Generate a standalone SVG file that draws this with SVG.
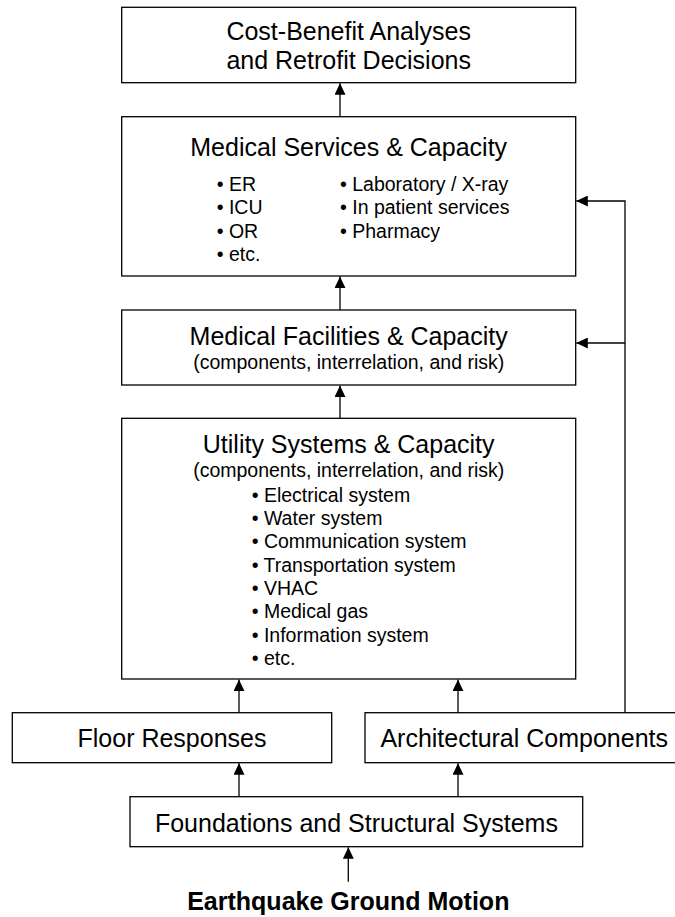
<svg xmlns="http://www.w3.org/2000/svg" width="675" height="917" viewBox="0 0 675 917">
  <style>
    .box { fill: #ffffff; stroke: #000000; stroke-width: 1.3; }
    .edge { fill: none; stroke: #000000; stroke-width: 1.3; }
    .t { font-family: "Liberation Sans", Arial, sans-serif; font-size: 25px; fill: #000000; text-anchor: middle; }
    .s { font-family: "Liberation Sans", Arial, sans-serif; font-size: 19.5px; fill: #000000; text-anchor: middle; }
    .b { font-family: "Liberation Sans", Arial, sans-serif; font-size: 19.5px; fill: #000000; }
    .bold { font-family: "Liberation Sans", Arial, sans-serif; font-size: 25px; font-weight: bold; fill: #000000; text-anchor: middle; }
  </style>
  <defs>
    <marker id="arrow" viewBox="0 0 11.5 11" refX="11.5" refY="5.5" markerWidth="11.5" markerHeight="11" markerUnits="userSpaceOnUse" orient="auto">
      <path d="M0,0 L11.5,5.5 L0,11 Z" fill="#000000"/>
    </marker>
  </defs>
  <rect width="675" height="917" fill="#ffffff"/>

  <g id="connectors">
    <line class="edge" x1="340" y1="116.7" x2="340" y2="83.3" marker-end="url(#arrow)"/>
    <line class="edge" x1="340" y1="310" x2="340" y2="276.6" marker-end="url(#arrow)"/>
    <line class="edge" x1="340" y1="418.3" x2="340" y2="385.6" marker-end="url(#arrow)"/>
    <line class="edge" x1="239" y1="712.7" x2="239" y2="679.6" marker-end="url(#arrow)"/>
    <line class="edge" x1="458" y1="712.7" x2="458" y2="679.6" marker-end="url(#arrow)"/>
    <line class="edge" x1="239" y1="796.7" x2="239" y2="763.3" marker-end="url(#arrow)"/>
    <line class="edge" x1="458" y1="796.7" x2="458" y2="763.3" marker-end="url(#arrow)"/>
    <line class="edge" x1="348.3" y1="881.7" x2="348.3" y2="847.3" marker-end="url(#arrow)"/>
    <polyline class="edge" points="625,712.7 625,201 576.3,201" marker-end="url(#arrow)"/>
    <line class="edge" x1="625" y1="343" x2="576.3" y2="343" marker-end="url(#arrow)"/>
  </g>

  <g id="cost-benefit">
    <rect class="box" x="121.7" y="7.3" width="454" height="75.4"/>
    <text class="t" x="348.7" y="40">Cost-Benefit Analyses</text>
    <text class="t" x="348.7" y="69">and Retrofit Decisions</text>
  </g>

  <g id="medical-services">
    <rect class="box" x="121.7" y="116.7" width="454" height="159.3"/>
    <text class="t" x="348.7" y="155.7">Medical Services &amp; Capacity</text>
    <text class="b" x="216.7" y="191">• ER</text>
    <text class="b" x="216.7" y="214.3">• ICU</text>
    <text class="b" x="216.7" y="237.7">• OR</text>
    <text class="b" x="216.7" y="261">• etc.</text>
    <text class="b" x="340" y="191">• Laboratory / X-ray</text>
    <text class="b" x="340" y="214.3">• In patient services</text>
    <text class="b" x="340" y="237.7">• Pharmacy</text>
  </g>

  <g id="medical-facilities">
    <rect class="box" x="121.7" y="310" width="454" height="75"/>
    <text class="t" x="348.7" y="345.3">Medical Facilities &amp; Capacity</text>
    <text class="s" x="348.7" y="369">(components, interrelation, and risk)</text>
  </g>

  <g id="utility-systems">
    <rect class="box" x="121.7" y="418.3" width="454" height="260.7"/>
    <text class="t" x="348.7" y="453.3">Utility Systems &amp; Capacity</text>
    <text class="s" x="348.7" y="477.3">(components, interrelation, and risk)</text>
    <text class="b" x="251.7" y="501.7">• Electrical system</text>
    <text class="b" x="251.7" y="525">• Water system</text>
    <text class="b" x="251.7" y="548.3">• Communication system</text>
    <text class="b" x="251.7" y="571.7">• Transportation system</text>
    <text class="b" x="251.7" y="595">• VHAC</text>
    <text class="b" x="251.7" y="618.3">• Medical gas</text>
    <text class="b" x="251.7" y="641.7">• Information system</text>
    <text class="b" x="251.7" y="665">• etc.</text>
  </g>

  <g id="floor-responses">
    <rect class="box" x="12.3" y="712.7" width="319.4" height="50"/>
    <text class="t" x="172" y="746.7">Floor Responses</text>
  </g>

  <g id="architectural-components">
    <rect class="box" x="365" y="712.7" width="320" height="50"/>
    <text class="t" x="524.2" y="746.7">Architectural Components</text>
  </g>

  <g id="foundations">
    <rect class="box" x="130" y="796.7" width="452.7" height="50"/>
    <text class="t" x="356.4" y="831.7">Foundations and Structural Systems</text>
  </g>

  <g id="ground-motion">
    <text class="bold" x="348.3" y="910">Earthquake Ground Motion</text>
  </g>
</svg>
